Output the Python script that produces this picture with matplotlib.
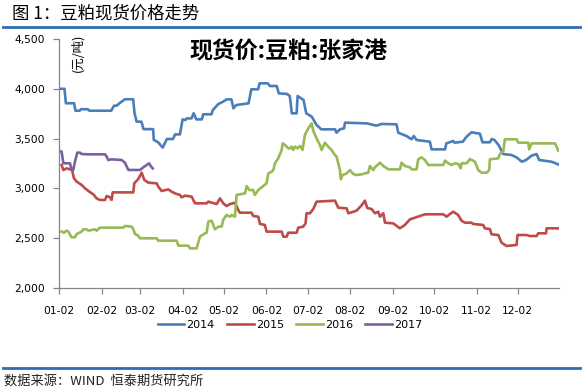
import matplotlib
matplotlib.use("Agg")
import matplotlib.pyplot as plt
from matplotlib.lines import Line2D
from matplotlib.ticker import FuncFormatter

plt.rcParams['font.family'] = ['DejaVu Sans', 'Noto Sans CJK SC']
CJK = ['Noto Sans CJK SC', 'DejaVu Sans']

# (day of year counted from 01-02, price)
p2014 = [(0, 4000), (4, 4000), (5, 3855), (11, 3855), (12, 3780), (15, 3780), (16, 3795),
         (21, 3795), (22, 3780), (38, 3780), (40, 3830), (42, 3830), (44, 3855), (48, 3895),
         (54, 3895), (55, 3755), (56.5, 3670), (60, 3670), (61.5, 3595), (68.5, 3595),
         (69, 3487), (72, 3465), (75.5, 3410), (77, 3452), (78.5, 3496), (83, 3496),
         (84.5, 3542), (88, 3542), (90, 3693), (92, 3687), (93, 3703), (96.5, 3703),
         (98, 3754), (100, 3693), (104, 3693), (105, 3744), (111, 3744), (112, 3787),
         (116, 3847), (119.5, 3871), (122, 3894), (125.5, 3894), (127, 3804), (129, 3837),
         (138, 3854), (140, 3995), (145, 3995), (146, 4055), (152, 4055), (153.5, 4028),
         (158.5, 4028), (160, 3954), (166, 3948), (168, 3928), (169.5, 3754), (173, 3754),
         (173.7, 3928), (178, 3888), (180, 3754), (184, 3720), (187.5, 3637), (191, 3593),
         (201, 3593), (202, 3559), (204.5, 3593), (207.5, 3603), (208.2, 3660), (224, 3653),
         (231, 3630), (235, 3647), (245.7, 3643), (247, 3559), (253, 3526), (256.6, 3493),
         (258.3, 3526), (260.3, 3486), (270, 3469), (271.2, 3392), (281, 3392), (282, 3452),
         (287, 3476), (288, 3459), (294, 3469), (296.7, 3519), (300.3, 3563), (306.4, 3549),
         (308.3, 3463), (313.7, 3463), (315, 3496), (317, 3486), (320, 3436), (323.4, 3345),
         (329.5, 3335), (333, 3312), (337, 3268), (340, 3285), (344, 3328), (347.7, 3345),
         (349.6, 3285), (355, 3275), (358.6, 3268), (363.5, 3241)]

p2015 = [(1.9, 3235), (3.2, 3184), (5.6, 3201), (8, 3191), (9.2, 3201), (10.9, 3101),
         (12.9, 3068), (16.5, 3034), (18.9, 3001), (22.1, 2967), (25, 2940), (27.4, 2900),
         (29.8, 2884), (33.5, 2884), (34.7, 2924), (37.1, 2910), (38.3, 2884), (39.1, 2960),
         (54.1, 2960), (54.8, 3051), (57.7, 3094), (60.2, 3157), (62.1, 3085), (65, 3058),
         (71.1, 3051), (72.3, 3017), (74.7, 2974), (79.6, 2990), (82, 2967), (84.4, 2950),
         (88.1, 2934), (89.3, 2910), (91.7, 2927), (96.6, 2917), (99, 2850), (107.5, 2850),
         (108.7, 2867), (114.8, 2843), (117.2, 2900), (119.6, 2850), (122, 2823),
         (124.5, 2843), (128.1, 2857), (130.5, 2783), (131.7, 2756), (140.2, 2756),
         (141.4, 2723), (145.1, 2716), (146.3, 2643), (149.9, 2633), (151.1, 2566),
         (162.1, 2566), (163.3, 2515), (165.7, 2515), (166.9, 2555), (173, 2555),
         (174.2, 2606), (177.8, 2616), (179.5, 2649), (180.2, 2750), (182.7, 2750),
         (185.1, 2793), (187.5, 2867), (200.9, 2877), (203.3, 2806), (209.4, 2800),
         (210.6, 2750), (214.3, 2766), (216.6, 2776), (220.3, 2830), (222.7, 2877),
         (224.4, 2803), (227.6, 2793), (230, 2750), (232.4, 2766), (233.7, 2716),
         (236.1, 2750), (237.3, 2656), (243.3, 2649), (248.2, 2599), (251.8, 2633),
         (255.5, 2689), (259.1, 2706), (262.8, 2723), (266.4, 2740), (279.8, 2740),
         (282.2, 2716), (284.6, 2743), (287, 2766), (290.6, 2733), (293, 2676),
         (295.5, 2656), (300.3, 2656), (301.5, 2643), (308.8, 2633), (310, 2599),
         (313.7, 2592), (314.9, 2539), (319.8, 2532), (322.2, 2455), (325.8, 2422),
         (328.2, 2425), (333.1, 2432), (333.8, 2532), (340.4, 2532), (342.8, 2522),
         (347.7, 2522), (348.9, 2549), (354.5, 2549), (355, 2599), (363.4, 2599)]

p2016 = [(1.9, 2566), (3.6, 2555), (5.6, 2576), (6.8, 2566), (9.2, 2509), (11.6, 2509),
         (12.9, 2542), (16.5, 2566), (17.7, 2589), (20.1, 2589), (21.3, 2576), (26.2, 2589),
         (27.4, 2576), (29.8, 2606), (46.8, 2606), (48, 2623), (52.9, 2616), (54.1, 2589),
         (55.3, 2542), (57.7, 2525), (59, 2499), (71.1, 2499), (72.3, 2475), (85.6, 2475),
         (86.9, 2425), (94.1, 2425), (95.3, 2398), (100.2, 2398), (102.6, 2515),
         (106.3, 2549), (107.5, 2555), (108.7, 2666), (111.1, 2676), (112.3, 2633),
         (113.5, 2589), (116, 2616), (118.4, 2616), (119.6, 2686), (122, 2733),
         (124.5, 2716), (125.7, 2733), (128.1, 2716), (129.3, 2934), (131.7, 2940),
         (135.4, 2950), (136.6, 3024), (138.5, 2984), (141.4, 2984), (142.6, 2934),
         (145.1, 2984), (148.7, 3024), (151.1, 3051), (152.4, 3151), (154.8, 3168),
         (156, 3184), (157.2, 3252), (159.6, 3302), (162.1, 3386), (162.8, 3452),
         (164.5, 3436), (166.9, 3402), (168.1, 3402), (169.3, 3419), (170.5, 3386),
         (171.8, 3419), (173.5, 3402), (175.4, 3426), (177.3, 3386), (179, 3536),
         (181.5, 3603), (183.9, 3653), (185.1, 3579), (187.5, 3503), (189.9, 3436),
         (191.2, 3386), (193.6, 3459), (196, 3419), (198.4, 3386), (200.9, 3335),
         (202.1, 3318), (204.5, 3184), (205.2, 3091), (206.4, 3134), (209.4, 3151),
         (211.8, 3184), (214.3, 3144), (216.6, 3134), (220.3, 3141), (222.7, 3151),
         (225.1, 3158), (226.4, 3225), (228.8, 3184), (230, 3212), (233.7, 3258),
         (236.1, 3225), (239.7, 3191), (248.2, 3191), (249.4, 3258), (251.8, 3225),
         (255.5, 3212), (256.7, 3191), (260.3, 3191), (261.5, 3292), (264, 3312),
         (266.4, 3285), (268.8, 3235), (279.8, 3235), (281, 3279), (283.4, 3252),
         (285.8, 3235), (288.3, 3252), (290.7, 3245), (292.4, 3201), (293.1, 3252),
         (296.8, 3252), (299.2, 3295), (302.8, 3268), (305.2, 3184), (307.7, 3158),
         (311.3, 3158), (313.2, 3184), (313.7, 3292), (319.8, 3302), (321, 3345),
         (323.4, 3369), (324.6, 3493), (333.1, 3493), (334.3, 3459), (341.6, 3459),
         (342.3, 3392), (344.1, 3452), (361.1, 3452), (363.5, 3379)]

p2017 = [(0, 3379), (1.9, 3369), (3.2, 3252), (8, 3252), (9.2, 3185), (10.4, 3185),
         (11.6, 3268), (13.3, 3359), (15.3, 3359), (16.5, 3345), (21.3, 3342), (33.5, 3342),
         (34.7, 3319), (35.9, 3285), (38.3, 3292), (45.6, 3285), (48, 3258), (50.5, 3185),
         (59, 3185), (61.4, 3212), (63.8, 3235), (65.7, 3252), (66.7, 3225), (68.2, 3201)]

years = ['2014', '2015', '2016', '2017']
colors = ['#4A7EBB', '#BE4B48', '#98B954', '#7D60A0']
month_days = [0, 31, 59, 90, 120, 151, 181, 212, 243, 273, 304, 334]
month_labels = ['01-02', '02-02', '03-02', '04-02', '05-02', '06-02',
                '07-02', '08-02', '09-02', '10-02', '11-02', '12-02']

W, H = 583, 391
fig = plt.figure(figsize=(W / 100, H / 100), dpi=100)
ax = fig.add_axes([59 / W, 1 - 288 / H, 500 / W, 249 / H])

handles = []
for series, year, col in zip([p2014, p2015, p2016, p2017], years, colors):
    xs = [p[0] for p in series]
    ys = [p[1] for p in series]
    ln, = ax.plot(xs, ys, color=col, lw=1.9, solid_joinstyle='round', label=year)
    handles.append(ln)

ax.set_xlim(0, 364)
ax.set_ylim(2000, 4500)
ax.set_yticks([2000, 2500, 3000, 3500, 4000, 4500])
ax.yaxis.set_major_formatter(FuncFormatter(lambda v, p: f"{int(v):,}"))
ax.set_xticks(month_days)
ax.set_xticklabels(month_labels)

for s in ['top', 'right']:
    ax.spines[s].set_visible(False)
for s in ['left', 'bottom']:
    ax.spines[s].set_color('#868686')
    ax.spines[s].set_linewidth(0.9)
ax.tick_params(axis='both', colors='#868686', length=4, width=0.9, labelcolor='black',
               labelsize=7.7)
ax.tick_params(axis='y', pad=6)
ax.tick_params(axis='x', pad=9)

# texts
fig.text(12 / W, 1 - 13 / H, '图 1：豆粕现货价格走势', fontsize=12.5, family=CJK,
         va='center', ha='left')
fig.add_artist(Line2D([3 / W, 580 / W], [1 - 27 / H, 1 - 27 / H], color='#2E6DB4', lw=2))
fig.add_artist(Line2D([3 / W, 580 / W], [1 - 368 / H, 1 - 368 / H], color='#2E6DB4', lw=2))
fig.text(4 / W, 1 - 381 / H, '数据来源：WIND  恒泰期货研究所', fontsize=9.5, family=CJK,
         va='center', ha='left', color='#222222')
fig.text(289 / W, 1 - 52 / H, '现货价:豆粕:张家港', fontsize=16.5, family=CJK,
         weight='bold', va='center', ha='center')
fig.text(78 / W, 1 - 53 / H, '(元/吨)', fontsize=9, family=CJK, rotation=90,
         va='center', ha='center')

fig.legend(handles=handles, loc='center', bbox_to_anchor=(290 / W, 1 - 325 / H), ncol=4,
           frameon=False, fontsize=8, handlelength=2.4, handletextpad=0.2,
           columnspacing=1.1)

fig.savefig('out.png', dpi=100)
